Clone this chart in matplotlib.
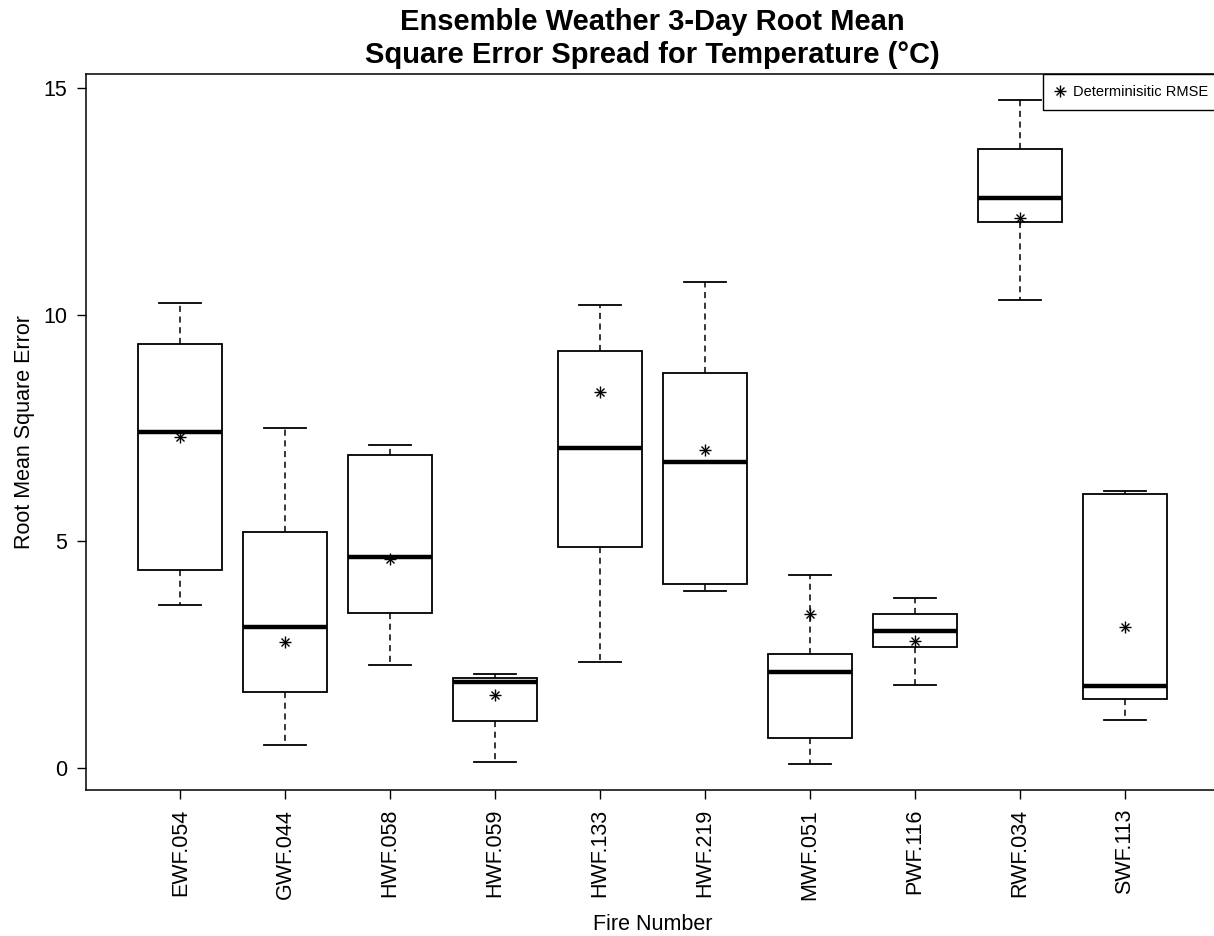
import numpy as np
import matplotlib
matplotlib.use("Agg")
import matplotlib.pyplot as plt

plt.rcParams["font.family"] = ["Liberation Sans", "DejaVu Sans"]

fires = ["EWF.054", "GWF.044", "HWF.058", "HWF.059", "HWF.133",
         "HWF.219", "MWF.051", "PWF.116", "RWF.034", "SWF.113"]
whisker_lo = [3.59, 0.50, 2.27, 0.14, 2.35, 3.91, 0.09, 1.83, 10.34, 1.07]
quart_1 = [4.38, 1.67, 3.43, 1.04, 4.88, 4.06, 0.66, 2.68, 12.05, 1.53]
medians = [7.42, 3.12, 4.66, 1.89, 7.07, 6.75, 2.11, 3.02, 12.58, 1.81]
quart_3 = [9.35, 5.20, 6.91, 1.99, 9.21, 8.73, 2.52, 3.41, 13.67, 6.05]
whisker_hi = [10.27, 7.51, 7.12, 2.08, 10.23, 10.73, 4.27, 3.75, 14.74, 6.11]
det_rmse = [7.31, 2.79, 4.61, 1.61, 8.31, 7.03, 3.39, 2.81, 12.15, 3.12]


def build_stats():
    stats = []
    for i, name in enumerate(fires):
        stats.append(
            {
                "label": name,
                "whislo": whisker_lo[i],
                "q1": quart_1[i],
                "med": medians[i],
                "q3": quart_3[i],
                "whishi": whisker_hi[i],
                "fliers": [],
            }
        )
    return stats


def main():
    W, H = 1214, 936
    fig = plt.figure(figsize=(W / 100, H / 100), dpi=100)
    # right edge of the plot box sits just past the figure edge
    ax = fig.add_axes([86 / W, 1 - 790 / H, (1219 - 86) / W, (790 - 74) / H])

    positions = np.arange(1, len(fires) + 1)
    ax.bxp(
        build_stats(),
        positions=positions,
        widths=0.8,
        capwidths=0.4,
        showfliers=False,
        patch_artist=True,
        boxprops=dict(facecolor="white", edgecolor="black", linewidth=1.3),
        medianprops=dict(color="black", linewidth=3.2, solid_capstyle="butt"),
        whiskerprops=dict(color="black", linestyle=(0, (4, 3)), linewidth=1.1),
        capprops=dict(color="black", linewidth=1.3),
    )

    # deterministic RMSE drawn as an asterisk (+ and x overlaid)
    h_plus, = ax.plot(positions, det_rmse, ls="none", marker="+", ms=8,
                      mew=1.0, color="black", zorder=5)
    h_x, = ax.plot(positions, det_rmse, ls="none", marker="x", ms=6,
                   mew=1.0, color="black", zorder=5)

    ax.set_xlim(0.1, 10.9)
    ax.set_ylim(-0.486, 15.32)
    ax.set_xticks(positions)
    ax.set_xticklabels(fires, rotation=90)
    ax.set_yticks([0, 5, 10, 15])
    ax.tick_params(axis="both", length=6.5, width=1, labelsize=15.5, pad=7)
    for sp in ax.spines.values():
        sp.set_linewidth(1.1)

    ax.set_xlabel("Fire Number", fontsize=15.5, labelpad=10.5)
    ax.set_ylabel("Root Mean Square Error", fontsize=15.5, labelpad=6)
    ax.set_title("Ensemble Weather 3-Day Root Mean\n"
                 "Square Error Spread for Temperature (\u00b0C)",
                 fontsize=21, fontweight="bold", pad=8, linespacing=1.24)

    leg = ax.legend([(h_plus, h_x)], ["Determinisitic RMSE"], loc="upper right",
                    borderaxespad=0, fancybox=False, edgecolor="black",
                    framealpha=1, fontsize=10.5, handlelength=0.8,
                    handletextpad=0.5, borderpad=0.75)
    leg.get_frame().set_linewidth(1.0)

    fig.savefig("out.png", dpi=100)


if __name__ == "__main__":
    main()
